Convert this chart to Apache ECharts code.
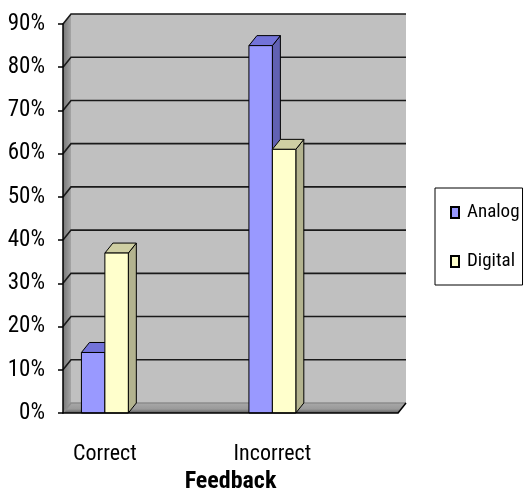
<!DOCTYPE html>
<html>
<head>
<meta charset="utf-8">
<script src="https://cdn.jsdelivr.net/npm/echarts@6/dist/echarts.min.js"></script>
<style>
html,body{margin:0;padding:0;background:#fff;}
#chart{width:525px;height:493px;}
</style>
</head>
<body>
<div id="chart"></div>
<script>
// ---- data ----
var categories = ['Correct', '', 'Incorrect', ''];
var analog = [14, null, 85, null];
var digital = [37, null, 61, null];
var yTicks = [0, 10, 20, 30, 40, 50, 60, 70, 80, 90];
var seriesNames = ['Analog', 'Digital'];
var xAxisTitle = 'Feedback';

// ---- style constants ----
var FONT = '"Roboto Condensed", "DejaVu Sans Condensed", sans-serif';
var DX = 8, DY = -10;
var faceColors = [
  { front: '#9999ff', top: '#7373d9', side: '#6161b3' },
  { front: '#ffffcc', top: '#cfcfa3', side: '#b3b38f' }
];

var chart = echarts.init(document.getElementById('chart'));

function wallRender(params, api) {
  var cs = params.coordSys;
  var x0 = cs.x, x1 = cs.x + cs.width;
  var yb = api.coord([0, yTicks[0]])[1];
  var yt = api.coord([0, yTicks[yTicks.length - 1]])[1];
  var children = [];
  children.push({ type: 'rect', shape: { x: x0 + DX, y: yt + DY, width: x1 - x0, height: yb - yt },
    style: { fill: '#c0c0c0' } });
  children.push({ type: 'polygon', shape: { points: [[x0, yt], [x0 + DX, yt + DY], [x0 + DX, yb + DY], [x0, yb]] },
    style: { fill: new echarts.graphic.LinearGradient(0, 0, 1, 0, [{ offset: 0, color: '#777777' }, { offset: 0.4, color: '#8a8a8a' }, { offset: 1, color: '#a4a4a4' }]) } });
  children.push({ type: 'polygon', shape: { points: [[x0, yb], [x1, yb], [x1 + DX, yb + DY], [x0 + DX, yb + DY]] },
    style: { fill: new echarts.graphic.LinearGradient(0, 0, 0, 1, [{ offset: 0, color: '#a8a8a8' }, { offset: 0.6, color: '#9a9a9a' }, { offset: 1, color: '#5e5e5e' }]) } });
  for (var i = 0; i < yTicks.length; i++) {
    var y = api.coord([0, yTicks[i]])[1];
    var col = i === 0 ? '#8c8c8c' : '#1a1a1a';
    children.push({ type: 'polyline', shape: { points: [[x0, y], [x0 + DX, y + DY], [x1 + DX, y + DY]] },
      style: { stroke: col, lineWidth: 1.6, fill: null } });
  }
  children.push({ type: 'line', shape: { x1: x1, y1: yb, x2: x1 + DX, y2: yb + DY }, style: { stroke: '#000', lineWidth: 1.5 } });
  return { type: 'group', children: children };
}

function makeBarRender(sIdx) {
  return function (params, api) {
    var v = api.value(1);
    if (v == null || isNaN(v)) return null;
    var cat = api.value(0);
    var top = api.coord([cat, v]);
    var base = api.coord([cat, 0]);
    var band = api.size([1, 0])[0];
    var w = band * 0.28;
    var x0 = top[0] + (sIdx === 0 ? -w : 0);
    var yT = top[1], yB = base[1];
    var c = faceColors[sIdx];
    var st = { stroke: '#000', lineWidth: 1 };
    return { type: 'group', children: [
      { type: 'polygon', shape: { points: [[x0 + w, yT], [x0 + w + DX, yT + DY], [x0 + w + DX, yB + DY], [x0 + w, yB]] },
        style: Object.assign({ fill: c.side }, st) },
      { type: 'polygon', shape: { points: [[x0, yT], [x0 + w, yT], [x0 + w + DX, yT + DY], [x0 + DX, yT + DY]] },
        style: Object.assign({ fill: c.top }, st) },
      { type: 'rect', shape: { x: x0, y: yT, width: w, height: yB - yT },
        style: Object.assign({ fill: c.front }, st) }
    ] };
  };
}

function toPairs(arr) { return arr.map(function (v, i) { return [i, v]; }); }

var option = {
  animation: false,
  backgroundColor: '#ffffff',
  grid: { left: 63, right: 127, top: 24, bottom: 80, outerBoundsMode: 'none', containLabel: false },
  legend: {
    data: seriesNames,
    orient: 'vertical',
    left: 435, top: 188,
    padding: [14, 3, 13, 15],
    itemGap: 28,
    itemWidth: 8, itemHeight: 11,
    icon: 'rect',
    borderColor: '#000', borderWidth: 1,
    textStyle: { fontFamily: FONT, fontSize: 19, color: '#000', lineHeight: 21, padding: [0, 0, 0, 3] }
  },
  xAxis: {
    type: 'category', data: categories, boundaryGap: true, z: 10,
    axisLine: { lineStyle: { color: '#000', width: 1.5 } },
    axisTick: { interval: 0, length: 10, lineStyle: { color: '#000', width: 1.5 } },
    axisLabel: { interval: 0, margin: 30, fontFamily: FONT, fontSize: 22, color: '#000' },
    name: xAxisTitle, nameLocation: 'middle', nameGap: 53,
    nameTextStyle: { fontFamily: FONT, fontSize: 24, fontWeight: 'bold', color: '#000' }
  },
  yAxis: {
    type: 'value', min: 0, max: 90, interval: 10, z: 10,
    splitLine: { show: false },
    axisLine: { show: true, lineStyle: { color: '#000', width: 1.5 } },
    axisTick: { show: true, length: 5, lineStyle: { color: '#000', width: 1.5 } },
    axisLabel: { formatter: '{value}%', margin: 18, fontFamily: FONT, fontSize: 23, color: '#000' }
  },
  series: [
    { type: 'custom', z: 1, silent: true, clip: false, data: [[0, 0]], renderItem: wallRender, tooltip: { show: false } },
    { type: 'custom', name: seriesNames[0], z: 3, clip: false, data: toPairs(analog), encode: { x: 0, y: 1 },
      itemStyle: { color: faceColors[0].front, borderColor: '#000', borderWidth: 1 }, renderItem: makeBarRender(0) },
    { type: 'custom', name: seriesNames[1], z: 4, clip: false, data: toPairs(digital), encode: { x: 0, y: 1 },
      itemStyle: { color: faceColors[1].front, borderColor: '#000', borderWidth: 1 }, renderItem: makeBarRender(1) }
  ]
};
chart.setOption(option);
</script>
</body>
</html>
